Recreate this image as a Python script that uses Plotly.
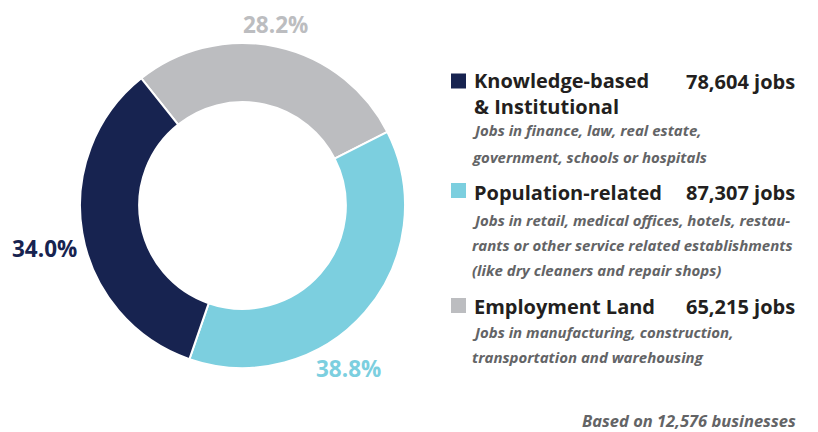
import plotly.graph_objects as go

# Data
categories = ["Employment Land", "Population-related", "Knowledge-based & Institutional"]
jobs = [65215, 87307, 78604]
pct_labels = ["28.2%", "38.8%", "34.0%"]
colors = ["#bcbdc0", "#7ccfdf", "#172350"]

legend_titles = [["Knowledge-based", "& Institutional"], ["Population-related"], ["Employment Land"]]
legend_jobs = ["78,604 jobs", "87,307 jobs", "65,215 jobs"]
legend_desc = [
    ["Jobs in finance, law, real estate,", "government, schools or hospitals"],
    ["Jobs in retail, medical offices, hotels, restau-",
     "rants or other service related establishments",
     "(like dry cleaners and repair shops)"],
    ["Jobs in manufacturing, construction,", "transportation and warehousing"],
]
legend_colors = ["#172350", "#7ccfdf", "#bcbdc0"]
footer = "Based on 12,576 businesses"

W, H = 818, 432
FONT = "Open Sans"
DARK = "#231f20"
GREY = "#636466"

fig = go.Figure()
fig.add_trace(go.Pie(
    labels=categories,
    values=jobs,
    hole=0.636,
    sort=False,
    direction="clockwise",
    rotation=-38.5,
    marker=dict(colors=colors, line=dict(color="white", width=2)),
    textinfo="none",
    hoverinfo="label+value",
    showlegend=False,
    domain=dict(x=[80 / W, 405 / W], y=[1 - 368 / H, 1 - 43 / H]),
))


def px(x):
    return x / W


def py(y):
    return 1 - y / H


annotations = []
shapes = []


def add_text(text, x, y, size, color, anchor="left", weight="bold", style="normal"):
    annotations.append(dict(
        x=px(x), y=py(y), xref="paper", yref="paper", text=text,
        showarrow=False, xanchor=anchor, yanchor="middle", align=anchor,
        borderpad=0,
        font=dict(family=FONT, size=size, color=color, weight=weight, style=style),
    ))


# percent labels
pct_pos = [(275, 24), (348, 368), (44, 248)]
for lab, (x, y), c in zip(pct_labels, pct_pos, colors):
    add_text(lab, x, y, 22.5, c, anchor="center")

title_y = [93.5, 192, 306]
first_title_y = [81, 192, 306]
desc_y = [[130, 157], [220, 245, 270], [332, 357]]
square_y = [81, 190.5, 305.5]

for i in range(3):
    sy = square_y[i]
    shapes.append(dict(type="rect", xref="paper", yref="paper",
                       x0=px(451), x1=px(466), y0=py(sy + 7.5), y1=py(sy - 7.5),
                       fillcolor=legend_colors[i], line=dict(width=0)))
    add_text("<br>".join(legend_titles[i]), 473, title_y[i], 20, DARK)
    add_text(legend_jobs[i], 796, first_title_y[i], 20, DARK, anchor="right")
    for line, y in zip(legend_desc[i], desc_y[i]):
        add_text(line, 471, y, 15, GREY, weight="bold", style="italic")

add_text(footer, 797, 420, 16.5, GREY, anchor="right", weight="bold", style="italic")

fig.update_layout(
    width=W, height=H,
    margin=dict(l=0, r=0, t=0, b=0),
    paper_bgcolor="white", plot_bgcolor="white",
    annotations=annotations, shapes=shapes,
)

fig.write_html("out.html", config={"displayModeBar": False},
               post_script="document.body.style.margin='0';")
